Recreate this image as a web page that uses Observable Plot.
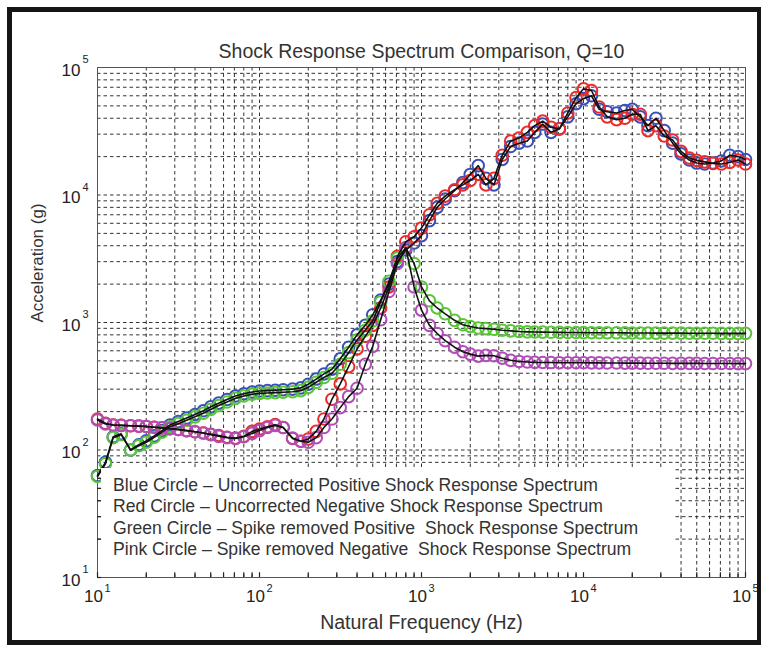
<!DOCTYPE html>
<html>
<head>
<meta charset="utf-8">
<script src="https://cdn.jsdelivr.net/npm/d3@7"></script>
<script src="https://cdn.jsdelivr.net/npm/@observablehq/plot@0.6"></script>
<style>
  html, body { margin: 0; padding: 0; background: #fff; }
  #wrap { position: relative; width: 761px; height: 646px; overflow: hidden; }
  #frame { position: absolute; left: 7px; top: 7px; width: 745px; height: 628px; border: 5px solid #151515; pointer-events: none; }
  #legend { position: absolute; left: 101px; top: 468px; width: 572px; height: 103px; background: #fff;
            font-family: "Liberation Sans", Arial, sans-serif; font-size: 17.6px; color: #333; white-space: pre; }
  #legend div { position: absolute; left: 12px; line-height: 20px; }
</style>
</head>
<body>
<div id="wrap"></div>
<script>
// ---- data ----
const freq = [10,11.2,12.5,14,16,18,20,22.4,25,28,31.5,35.5,40,45,50,56,63,71,80,90,
  100,112,125,140,160,180,200,224,250,280,315,355,400,450,500,560,630,710,800,900,
  1000,1120,1250,1400,1600,1800,2000,2240,2500,2800,3150,3550,4000,4500,5000,5600,6300,7100,8000,9000,
  10000,11200,12500,14000,16000,18000,20000,22400,25000,28000,31500,35500,40000,45000,50000,56000,63000,71000,80000,90000,
  100000];

const blue = [63,80,127,134,100,110,118,129,142,157,167,178,190,203,218,233,249,265,276,285,
  290,292,294,297,300,307,328,360,395,430,520,640,800,950,1150,1500,2000,3000,3700,4200,
  4800,6300,8000,9300,10800,12500,14500,17000,13500,12000,19000,24000,25500,26500,31000,36000,31000,33000,41000,52000,
  57000,60000,47000,45000,44000,46000,47000,41000,35000,40000,32000,25500,21000,18800,17800,17500,17800,18500,20500,20000,
  19000];

const red = [175,162,157,156,155,154,153,151,149,147,145,142,139,136,133,130,126,124,128,140,
  146,152,158,150,123,117,122,140,175,250,330,450,620,780,950,1300,1900,3300,4300,4700,
  5500,7000,8600,9800,11000,12000,13000,14500,12000,13500,20500,26500,28000,31000,35000,38000,34000,33000,44000,58000,
  68000,66000,49000,41000,39000,40000,43000,43000,32000,35000,29000,27000,22000,19500,18700,18200,17700,17500,18000,18800,
  17500];

const green = [62,78,125,132,100,108,115,126,138,152,161,171,182,194,208,223,238,254,265,274,
  278,280,282,284,286,292,310,340,370,400,470,580,730,870,1030,1450,2100,3200,3850,2900,
  1900,1480,1300,1170,1040,960,930,905,895,885,870,860,850,845,842,840,838,836,835,834,
  833,832,831,830,830,829,828,828,827,826,826,825,825,824,824,823,823,822,822,821,
  821];

const pink = [172,160,157,156,155,154,153,151,149,147,145,142,139,136,132,128,125,123,127,135,
  142,150,156,150,124,117,115,125,150,175,215,262,305,470,650,1050,1750,2900,3850,1900,
  1250,950,820,720,640,590,565,545,552,548,525,505,495,490,487,486,485,484,484,483,
  483,482,482,481,481,480,480,480,479,479,479,478,478,478,478,477,477,477,477,476,
  476];

const seriesNames = ["Uncorrected positive", "Uncorrected negative", "Spike removed positive", "Spike removed negative"];
const seriesColors = ["#3a4fb8", "#ec2a2a", "#58c636", "#b14db7"];
const seriesValues = [blue, red, green, pink];

const majorTicks = [10, 100, 1000, 10000, 100000];
const tickExponents = ["1", "2", "3", "4", "5"];

const titleText = "Shock Response Spectrum Comparison, Q=10";
const xLabel = "Natural Frequency (Hz)";
const yLabel = "Acceleration (g)";
const legendLines = [
  "Blue Circle \u2013 Uncorrected Positive Shock Response Spectrum",
  "Red Circle \u2013 Uncorrected Negative Shock Response Spectrum",
  "Green Circle \u2013 Spike removed Positive  Shock Response Spectrum",
  "Pink Circle \u2013 Spike removed Negative  Shock Response Spectrum"
];

// ---- build tables ----
const rows = seriesNames.flatMap((s, k) => freq.map((f, i) => ({f, v: seriesValues[k][i], s})));
const grid = [];
for (let d = 0; d < 4; d++) for (let m = 1; m <= 9; m++) grid.push(majorTicks[d] * m);
grid.push(100000);
const ticks = majorTicks.map((t, i) => ({t, e: tickExponents[i]}));

const font = "'Liberation Sans', Arial, sans-serif";
const base = {
  width: 761, height: 646,
  marginLeft: 97, marginRight: 16, marginTop: 67, marginBottom: 69,
  x: {type: "log", domain: [10, 100000], axis: null},
  y: {type: "log", domain: [10, 100000], axis: null}
};

const chart = Plot.plot({
  ...base,
  style: {fontFamily: font, fontSize: "16px", color: "#333", background: "transparent"},
  color: {domain: seriesNames, range: seriesColors},
  marks: [
    Plot.ruleX(grid, {stroke: "#111", strokeWidth: 1, strokeDasharray: "3.5,3", strokeOpacity: 0.85}),
    Plot.ruleY(grid, {stroke: "#111", strokeWidth: 1, strokeDasharray: "3.5,3", strokeOpacity: 0.85}),
    Plot.frame({stroke: "#555", strokeWidth: 1}),
    Plot.dot(rows, {x: "f", y: "v", stroke: "s", r: 5.8, strokeWidth: 2, fill: "none"}),
    Plot.line(rows, {x: "f", y: "v", z: "s", stroke: "#111", strokeWidth: 1.6}),
    // x tick labels
    Plot.text(ticks, {x: "t", frameAnchor: "bottom", dy: 24, dx: -4, text: () => "10", fontSize: 17, fill: "#222"}),
    Plot.text(ticks, {x: "t", frameAnchor: "bottom", dy: 14, dx: 7, text: "e", fontSize: 11, fill: "#222", textAnchor: "start"}),
    // y tick labels
    Plot.text(ticks, {y: "t", frameAnchor: "left", dx: -17, dy: 3, text: () => "10", fontSize: 17, fill: "#222", textAnchor: "end"}),
    Plot.text(ticks, {y: "t", frameAnchor: "left", dx: -15, dy: -8, text: "e", fontSize: 11, fill: "#222", textAnchor: "start"}),
    // titles
    Plot.text([titleText], {frameAnchor: "top", dy: -23, fontSize: 19.5, fill: "#333"}),
    Plot.text([xLabel], {frameAnchor: "bottom", dy: 51, fontSize: 19.5, fill: "#333"}),
    Plot.text([yLabel], {frameAnchor: "left", dx: -60, rotate: -90, fontSize: 17, fill: "#333"})
  ]
});

const wrap = document.getElementById("wrap");
wrap.appendChild(chart);

// legend box over lower-left part of the plot
const leg = document.createElement("div");
leg.id = "legend";
legendLines.forEach((t, i) => {
  const d = document.createElement("div");
  d.textContent = t;
  d.style.top = (7 + i * 21.3) + "px";
  leg.appendChild(d);
});
wrap.appendChild(leg);

// small inward axis ticks, visible below the legend box
const tickSvg = Plot.plot({
  ...base,
  style: {background: "transparent"},
  marks: [
    Plot.ruleX(grid, {x: d => d, y1: 10, y2: 10.9, stroke: "#222", strokeWidth: 1.2}),
    Plot.ruleY(grid.filter(g => g < 70), {y: d => d, x1: 10, x2: 10.6, stroke: "#222", strokeWidth: 1.2})
  ]
});
tickSvg.style.position = "absolute";
tickSvg.style.left = "0px";
tickSvg.style.top = "0px";
tickSvg.style.pointerEvents = "none";
wrap.appendChild(tickSvg);

const fr = document.createElement("div");
fr.id = "frame";
wrap.appendChild(fr);
</script>
</body>
</html>
